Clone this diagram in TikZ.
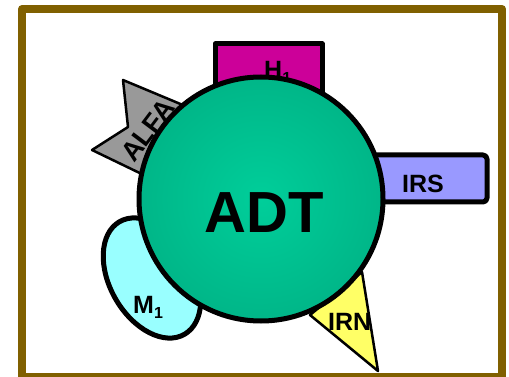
\documentclass[tikz,border=0pt]{standalone}
\usepackage{fontspec}
\setmainfont{Liberation Sans}
\definecolor{frameolive}{RGB}{128,96,0}
\definecolor{hpink}{RGB}{204,0,153}
\definecolor{irsblue}{RGB}{153,153,255}
\definecolor{alfagray}{RGB}{153,153,153}
\definecolor{irnyellow}{RGB}{255,255,102}
\definecolor{mcyan}{RGB}{153,255,255}
\definecolor{adtin}{RGB}{0,206,154}
\definecolor{adtout}{RGB}{0,182,136}
\newcommand{\lowsub}[1]{\raisebox{-5pt}{\fontsize{16}{16}\selectfont #1}}
\begin{document}
\begin{tikzpicture}[x=1pt, y=-1pt, line join=round,
        part/.style={draw=black, line width=5pt},
        lbl/.style={font=\bfseries\fontsize{25}{25}\selectfont, inner sep=0pt}]
    \useasboundingbox (0,0) rectangle (509,377);
    \draw[frameolive, line width=8pt] (22,9) rectangle (502,377);

    % the parts around the core
    \draw[part, fill=mcyan, rotate around={-60:(152,278)}] (152,278) ellipse [x radius=65pt, y radius=42pt];
    \draw[part, fill=hpink] (215,44) rectangle (322,120);
    \draw[part, fill=irsblue, rounded corners=4pt] (340,155) rectangle (487,202);
    \draw[part, line width=2.5pt, fill=alfagray] (123,80) -- (190,108) -- (205,150) -- (150,178) -- (92,150) -- (128,127) -- cycle;
    \draw[part, line width=2.5pt, fill=irnyellow] (310,315) -- (362,272) -- (378,371) -- cycle;
    \node[lbl, anchor=base west] (h1) at (264,79) {H\lowsub{1}};
    \node[lbl, font=\bfseries\fontsize{27}{27}\selectfont, rotate=53, anchor=base west] (alfa) at (134,164) {ALFA};

    % core
    \shade[inner color=adtin, outer color=adtout] (261,199) circle (122pt);
    \draw[part] (261,199) circle (122pt);
    \node[font=\bfseries\fontsize{58}{58}\selectfont, inner sep=0pt, anchor=base] (adt) at (264,232) {ADT};

    \node[lbl, anchor=base west] (irs) at (402,193) {IRS};
    \node[lbl, anchor=base west] (irn) at (328,330) {IRN};
    \node[lbl, anchor=base west] (m1) at (133,313) {M\lowsub{1}};
\end{tikzpicture}
\end{document}
